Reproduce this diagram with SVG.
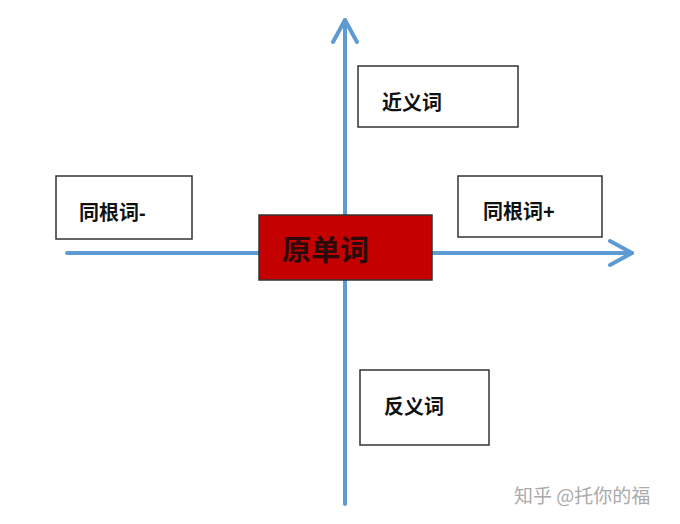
<svg xmlns="http://www.w3.org/2000/svg" width="680" height="524" viewBox="0 0 680 524">
<style>
.ax{stroke:#5f9bd3;stroke-width:4;fill:none;stroke-linecap:round;stroke-linejoin:round}
.bx{fill:#fff;stroke:#333;stroke-width:1.5}
.t{font-family:"Liberation Sans","Noto Sans CJK SC",sans-serif;font-weight:bold;font-size:20px;fill:#111}
</style>
<rect width="680" height="524" fill="#fff"/>
<g id="connectors">
<line class="ax" x1="345" y1="20" x2="345" y2="504"/>
<polyline class="ax" points="333,42 345,20 357,42"/>
<line class="ax" x1="67" y1="253" x2="632" y2="253"/>
<polyline class="ax" points="610,241 632,253 610,265"/>
</g>
<g id="n-jinyi"><rect class="bx" x="358" y="66" width="160" height="61"/><text class="t" x="382" y="110">近义词</text></g>
<g id="n-minus"><rect class="bx" x="56" y="176" width="136" height="63"/><text class="t" x="79" y="220">同根词-</text></g>
<g id="n-plus"><rect class="bx" x="458" y="176" width="144" height="61"/><text class="t" x="483" y="219">同根词+</text></g>
<g id="n-fanyi"><rect class="bx" x="360" y="370" width="129" height="75"/><text class="t" x="384" y="414">反义词</text></g>
<g id="n-orig"><rect x="259" y="215" width="173" height="65" fill="#c40000" stroke="#333" stroke-width="1.5"/><text x="282" y="261" font-family="Liberation Sans,'Noto Sans CJK SC',sans-serif" font-weight="bold" font-size="29" fill="#2a0a0a">原单词</text></g>
<text x="514" y="503" font-family="'Noto Sans CJK SC',sans-serif" font-size="19" fill="#aaa">知乎 @托你的福</text>
</svg>
